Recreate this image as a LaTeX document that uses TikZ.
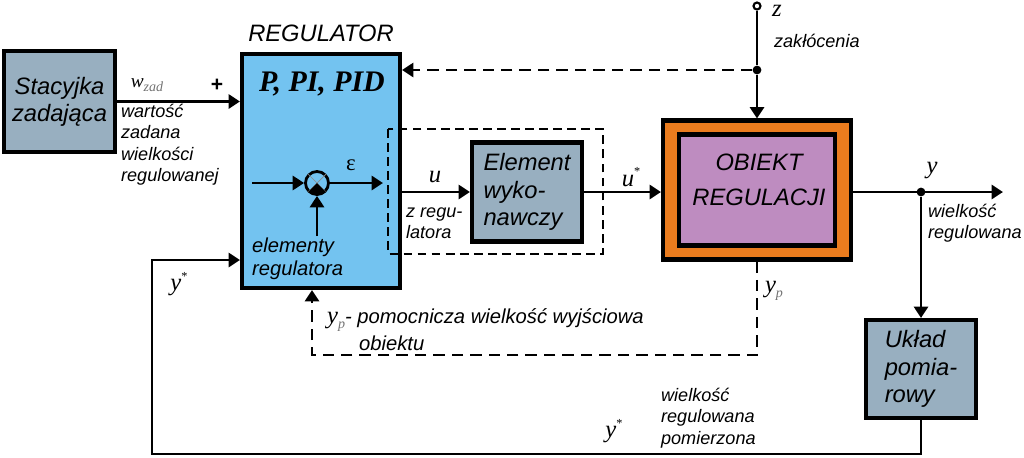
\documentclass[tikz,border=0pt]{standalone}
\usepackage{fontspec}
\setmainfont{Liberation Serif}
\setsansfont{Liberation Sans}
\usetikzlibrary{arrows.meta,positioning}
\definecolor{unitgray}{RGB}{152,175,192}
\definecolor{regblue}{RGB}{115,195,240}
\definecolor{plantorange}{RGB}{234,124,30}
\definecolor{plantviolet}{RGB}{190,140,192}
\newcommand{\bigtxt}{\sffamily\itshape\fontsize{13.5}{15.5}\selectfont}
\newcommand{\midtxt}{\sffamily\itshape\fontsize{11.5}{13.2}\selectfont}
\newcommand{\smalltxt}{\sffamily\itshape\fontsize{10.3}{12.2}\selectfont}
\newcommand{\signame}[1]{{\rmfamily\itshape\fontsize{14}{14}\selectfont #1}}
\newcommand{\lowidx}[1]{\raisebox{-2.5pt}{\rmfamily\itshape\fontsize{8}{8}\selectfont\color{black!55}#1}}
\newcommand{\upidx}[1]{\raisebox{6pt}{\rmfamily\fontsize{7}{7}\selectfont #1}}
\tikzstyle{box}=[rectangle,draw,line width=2.3pt,inner sep=0pt,align=center]
\tikzstyle{unit}=[box,fill=unitgray,font=\bigtxt]
\tikzstyle{controller}=[box,fill=regblue]
\tikzstyle{plant outer}=[box,fill=plantorange]
\tikzstyle{plant inner}=[box,fill=plantviolet]
\tikzstyle{lbl}=[inner sep=1pt,align=left]
\tikzstyle{joint}=[circle,fill,inner sep=0pt,minimum size=5pt]
\tikzstyle{flow}=[-{Triangle[length=6.5pt,width=8pt]},line width=1.6pt]
\tikzstyle{aux flow}=[flow,dash pattern=on 6.5pt off 4pt]
\tikzstyle{wire}=[line width=1.6pt]
\tikzstyle{frame}=[line width=1.2pt,dash pattern=on 5pt off 3pt]
\begin{document}
\begin{tikzpicture}[x=0.02cm,y=-0.02cm]
\useasboundingbox (0,0) rectangle (1024,457);

\node (stac) [unit,minimum width=2.22cm,minimum height=2.02cm] at (59.5,101.5) {Stacyjka\\zadająca};
\node (reg) [controller,minimum width=3.16cm,minimum height=4.68cm] at (321,171) {};
\node (regname) [font=\bigtxt,above=0.08cm of reg] {REGULATOR};
\node (pid) [font=\rmfamily\bfseries\itshape\fontsize{17}{17}\selectfont] at (322,84) {P, PI, PID};

\node (sum) [circle,draw,line width=1.6pt,minimum size=0.46cm,inner sep=0pt] at (317,183) {};
\draw [line width=0.4pt,black!45] (sum.north west) -- (sum.south east) (sum.north east) -- (sum.south west);
\fill (sum.center) -- (sum.south west) -- (sum.south) -- (sum.south east) -- cycle;
\coordinate (sumin) at (252,183);
\coordinate (sumout) at (383,183);
\coordinate (sumup) at (317,236);
\draw [flow] (sumin) -- (sum);
\draw [flow] (sum) -- (sumout);
\draw [flow] (sumup) -- (sum);
\node (eps) [font=\rmfamily\fontsize{13}{13}\selectfont] at (351,165) {ε};
\node (elreg) [lbl,font=\midtxt,anchor=west] at (250,259) {elementy\\regulatora};

\draw [flow] (stac) -- (stac -| reg.west);
\node (wzad) [lbl] at (147,85) {{\rmfamily\itshape\fontsize{11}{11}\selectfont w}\lowidx{zad}};
\node (plus) [font=\sffamily\bfseries\fontsize{12}{12}\selectfont] at (217,85) {+};
\node (wzadtxt) [lbl,font=\smalltxt,anchor=north west] at (119,102) {wartość\\zadana\\wielkości\\regulowanej};

\node (elem) [unit,align=left,minimum width=2.2cm,minimum height=1.98cm] at (527,192) {Element\\wyko-\\nawczy};
\draw [frame] (388,129) rectangle (603,254);
\draw [flow] (reg.east |- elem) -- (elem);
\node (u) [lbl] at (435,177) {\signame{u}};
\node (zreg) [lbl,font=\smalltxt,anchor=west] at (404,223) {z regu-\\latora};

\node (objo) [plant outer,minimum width=3.76cm,minimum height=2.78cm] at (757,190) {};
\node (obji) [plant inner,minimum width=3.12cm,minimum height=2.22cm] at (757,190) {};
\node (objtxt) [font=\sffamily\itshape\fontsize{13.5}{20}\selectfont,align=center] at (759,180) {OBIEKT\\REGULACJI};
\draw [flow] (elem) -- (elem -| objo.west);
\node (ustar) [lbl] at (631,177) {\signame{u}\upidx{*}};

\node (zin) [circle,draw,fill=white,line width=1.2pt,minimum size=0.14cm,inner sep=0pt] at (757,6) {};
\node (zdot) [joint] at (757,70) {};
\draw [wire] (zin) -- (zdot);
\draw [flow] (zdot) -- (zdot |- objo.north);
\draw [aux flow] (zdot) -- (zdot -| reg.east);
\node (z) [lbl] at (777,11) {\signame{z}};
\node (ztxt) [lbl,font=\smalltxt,anchor=west] at (772,41) {zakłócenia};

\coordinate (yend) at (1003,192);
\node (ydot) [joint] at (921,192) {};
\draw [flow] (objo.east |- elem) -- (yend);
\node (y) [lbl] at (932,171) {\signame{y}};
\node (ytxt) [lbl,font=\smalltxt,anchor=north west] at (926,202) {wielkość\\regulowana};

\node (ukl) [unit,align=left,minimum width=2.2cm,minimum height=1.96cm] at (921,369) {Układ\\pomia-\\rowy};
\draw [flow] (ydot) -- (ukl);

\coordinate (fbcorner) at (152,454);
\coordinate (fbtop) at (152,260);
\draw [flow] (ukl.south) |- (fbcorner) -- (fbtop) -- (fbtop -| reg.west);
\node (ystarl) [lbl] at (179,284) {\signame{y}\upidx{*}};
\node (ystarb) [lbl] at (614,431) {\signame{y}\upidx{*}};
\node (ymtxt) [lbl,font=\smalltxt,anchor=north west] at (659,386) {wielkość\\regulowana\\pomierzona};

\coordinate (ypcorner) at (312,355);
\draw [aux flow] (objo.south) |- (ypcorner) -- (ypcorner |- reg.south);
\node (yp) [lbl] at (774,291) {\signame{y}\lowidx{p}};
\node (yptxt) [lbl,anchor=west] at (325,320) {\signame{y}\lowidx{p}{\midtxt- pomocnicza wielkość wyjściowa}};
\node (yptxt2) [lbl,font=\midtxt,anchor=west] at (357,343) {obiektu};

\end{tikzpicture}
\end{document}
